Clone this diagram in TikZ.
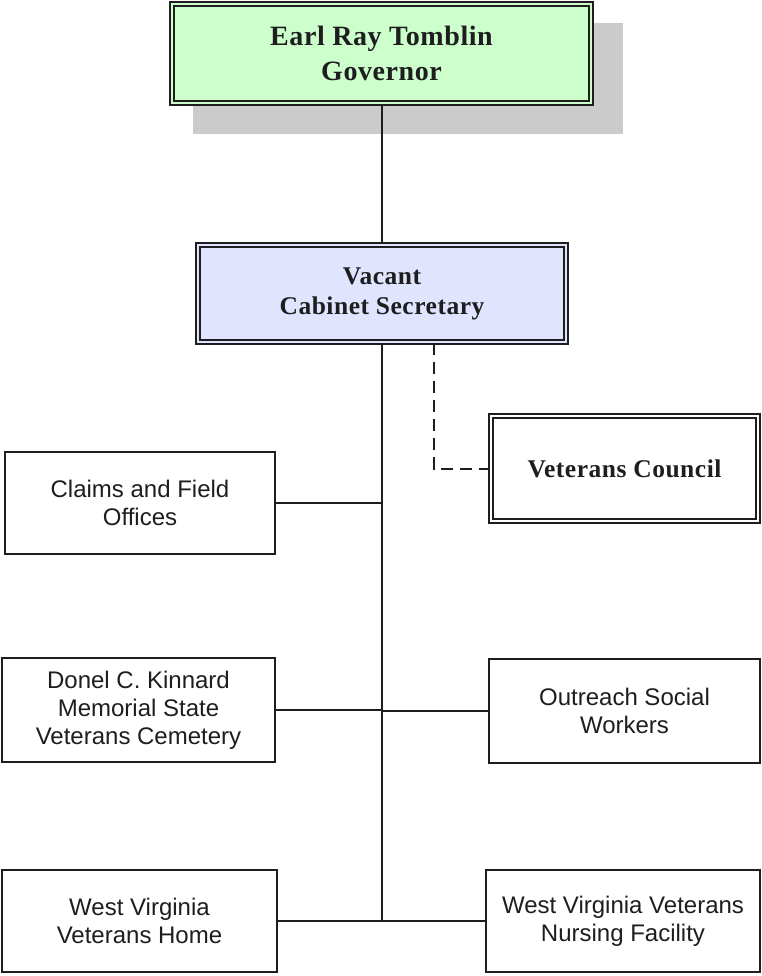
\documentclass[tikz,border=0pt]{standalone}
\usepackage{fontspec}
\setmainfont{Liberation Sans}
\newfontfamily\titlefont[LetterSpace=2]{Liberation Serif}
\usetikzlibrary{backgrounds}
\definecolor{govfill}{HTML}{CCFFCC}
\definecolor{secfill}{HTML}{E0E4FF}
\definecolor{shadowgray}{HTML}{CBCBCB}
\definecolor{inkgray}{HTML}{1E1E1E}
\begin{document}
\begin{tikzpicture}[x=1pt,y=-1pt,
  unit/.style={draw=inkgray, fill=white, line width=1.6pt, inner sep=0pt,
    align=center, text=inkgray, font=\fontsize{24}{28}\selectfont},
  headbox/.style={draw=inkgray, double, double distance=2.6pt, line width=1.8pt,
    inner sep=0pt, align=center, text=inkgray},
  link/.style={draw=inkgray, line width=2pt},
  advisory/.style={draw=inkgray, line width=2pt, dash pattern=on 12pt off 7pt}]
\useasboundingbox (0,0) rectangle (762,976);

% leadership
\node[headbox, fill=govfill, double=govfill, minimum width=418.8pt, minimum height=98.8pt,
  font=\titlefont\bfseries\fontsize{28}{35}\selectfont]
  (gov) at (381.5,53.5) {Earl Ray Tomblin\\Governor};
\node[headbox, fill=secfill, double=secfill, minimum width=367.8pt, minimum height=96.8pt,
  font=\titlefont\bfseries\fontsize{25.5}{30}\selectfont]
  (cab) at (382,293.5) {Vacant\\Cabinet Secretary};
\node[headbox, fill=white, double=white, minimum width=266.8pt, minimum height=104.8pt,
  font=\titlefont\bfseries\fontsize{25.5}{30}\selectfont]
  (vc) at (624.5,468.5) {Veterans Council};

% divisions
\node[unit, minimum width=270.4pt, minimum height=102.4pt] (claims) at (140,503)
  {Claims and Field\\Offices};
\node[unit, minimum width=273.4pt, minimum height=104.4pt] (cem) at (138.5,710)
  {Donel C. Kinnard\\Memorial State\\Veterans Cemetery};
\node[unit, minimum width=271.4pt, minimum height=104.4pt] (out) at (624.5,711)
  {Outreach Social\\Workers};
\node[unit, minimum width=275.4pt, minimum height=102.4pt] (home) at (139.5,921)
  {West Virginia\\Veterans Home};
\node[unit, minimum width=274.4pt, minimum height=102.4pt] (nurse) at (623,921)
  {West Virginia Veterans\\Nursing Facility};

\begin{scope}[on background layer]
  % drop shadow behind the governor box
  \fill[shadowgray] (193,23) rectangle (623,134);
  % reporting lines
  \draw[link] (gov.south) -- (gov.south |- cab.north);
  \draw[link] (cab.south) -- (cab.south |- home.east);
  \draw[link] (claims.east) -- (claims.east -| cab.south);
  \draw[link] (cem.east) -- (cem.east -| cab.south);
  \draw[link] (out.west) -- (out.west -| cab.south);
  \draw[link] (home.east) -- (home.east -| cab.south);
  \draw[link] (nurse.west) -- (nurse.west -| cab.south);
  \draw[advisory] ([xshift=52pt]cab.south) |- (vc.west);
\end{scope}
\end{tikzpicture}
\end{document}
